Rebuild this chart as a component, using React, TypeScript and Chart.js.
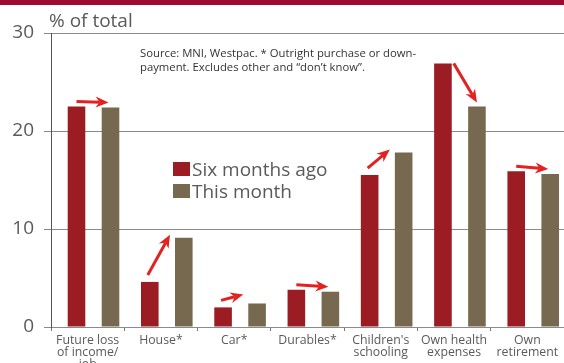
import React, { useEffect, useRef } from "react";
import { Chart, registerables } from "chart.js";

Chart.register(...registerables);

// ---- data ----
const categories: string[][] = [
  ["Future loss", "of income/", "job"],
  ["House*"],
  ["Car*"],
  ["Durables*"],
  ["Children's", "schooling"],
  ["Own health", "expenses"],
  ["Own", "retirement"],
];
const sixMonthsAgo = [22.5, 4.6, 2.0, 3.8, 15.5, 26.9, 15.9];
const thisMonth = [22.4, 9.1, 2.4, 3.6, 17.8, 22.5, 15.6];
const yTicks = [0, 10, 20, 30];
const seriesNames = ["Six months ago", "This month"];
const yTitle = "% of total";
const noteLines = [
  "Source: MNI, Westpac. * Outright purchase or down-",
  "payment. Excludes other and \u201cdon\u2019t know\u201d.",
];

// ---- styles ----
const FONT = "'Open Sans', sans-serif";
const RED = "#9b1c23";
const OLIVE = "#77694f";
const ARROW = "#e3211f";
const BAND = "#9e0b2e";
const TEXT = "#5a5a5a";
const GRID = "#8a8a8a";
const RED_POS = 0.348; // position of bar inside its category (fraction)
const OLIVE_POS = 0.812;
const BAR_W = 17.6;

function drawArrow(ctx: CanvasRenderingContext2D, x1: number, y1: number, x2: number, y2: number) {
  const ang = Math.atan2(y2 - y1, x2 - x1);
  const c = Math.cos(ang), s = Math.sin(ang);
  const headLen = 13, headW = 5.5, notch = 9;
  ctx.save();
  ctx.strokeStyle = ARROW;
  ctx.fillStyle = ARROW;
  ctx.lineWidth = 3;
  ctx.lineCap = "butt";
  ctx.beginPath();
  ctx.moveTo(x1, y1);
  ctx.lineTo(x2 - notch * c, y2 - notch * s);
  ctx.stroke();
  const bx = x2 - headLen * c, by = y2 - headLen * s;
  ctx.beginPath();
  ctx.moveTo(x2, y2);
  ctx.lineTo(bx - headW * s, by + headW * c);
  ctx.lineTo(x2 - notch * c, y2 - notch * s);
  ctx.lineTo(bx + headW * s, by - headW * c);
  ctx.closePath();
  ctx.fill();
  ctx.restore();
}

const decor = {
  id: "decor",
  beforeDraw(chart: any) {
    const ctx = chart.ctx as CanvasRenderingContext2D;
    ctx.save();
    ctx.fillStyle = "#ffffff";
    ctx.fillRect(0, 0, chart.width, chart.height);
    ctx.fillStyle = BAND;
    ctx.fillRect(0, 0, chart.width, 5);
    ctx.restore();
  },
  afterDatasetsDraw(chart: any) {
    const ctx = chart.ctx as CanvasRenderingContext2D;
    const m0 = chart.getDatasetMeta(0).data;
    const m1 = chart.getDatasetMeta(1).data;
    for (let i = 0; i < sixMonthsAgo.length; i++) {
      const r = m0[i], o = m1[i];
      const diff = thisMonth[i] - sixMonthsAgo[i];
      let x1, y1, x2, y2;
      if (diff > 0.3) {
        x1 = r.x - 2; y1 = r.y - 7;
        x2 = o.x - o.width / 2 - 5; y2 = Math.min(o.y - 3, y1 - 6);
      } else if (diff < -1) {
        x1 = r.x + r.width / 2 + 2; y1 = r.y;
        x2 = o.x; y2 = o.y - 4;
      } else {
        x1 = r.x; y1 = r.y - 5;
        x2 = o.x - 2; y2 = o.y - 5;
      }
      drawArrow(ctx, x1, y1, x2, y2);
    }
  },
  afterDraw(chart: any) {
    const ctx = chart.ctx as CanvasRenderingContext2D;
    const a = chart.chartArea;
    ctx.save();
    ctx.fillStyle = TEXT;
    ctx.textAlign = "left";
    ctx.textBaseline = "alphabetic";
    ctx.font = `19px ${FONT}`;
    ctx.fillText(yTitle, a.left - 2, 27);

    ctx.fillStyle = "#333333";
    ctx.font = `11.3px ${FONT}`;
    ctx.fillText(noteLines[0], a.left + 89, 57);
    ctx.fillText(noteLines[1], a.left + 89, 71);

    const colors = [RED, OLIVE];
    const lx = a.left + 122;
    const ly = [162, 184];
    ctx.font = `19px ${FONT}`;
    for (let k = 0; k < 2; k++) {
      ctx.fillStyle = colors[k];
      ctx.fillRect(lx, ly[k], 17, 14);
      ctx.fillStyle = TEXT;
      ctx.fillText(seriesNames[k], lx + 19, ly[k] + 14);
    }
    ctx.restore();
  },
};

export default function App() {
  const ref = useRef<HTMLCanvasElement>(null);
  useEffect(() => {
    const chart = new Chart(ref.current as HTMLCanvasElement, {
      type: "bar",
      data: {
        labels: categories as any,
        datasets: [
          {
            label: seriesNames[0],
            data: sixMonthsAgo.map((v, i) => ({ x: i + RED_POS, y: v })) as any,
            backgroundColor: RED,
            xAxisID: "xb",
            yAxisID: "y",
            grouped: false,
            maxBarThickness: BAR_W,
          },
          {
            label: seriesNames[1],
            data: thisMonth.map((v, i) => ({ x: i + OLIVE_POS, y: v })) as any,
            backgroundColor: OLIVE,
            xAxisID: "xb",
            yAxisID: "y",
            grouped: false,
            maxBarThickness: BAR_W,
          },
        ],
      },
      options: {
        animation: false,
        responsive: false,
        layout: { padding: { top: 33, right: 0, left: 0, bottom: 0 } },
        plugins: { legend: { display: false }, tooltip: { enabled: false } },
        scales: {
          x: {
            type: "category",
            position: "bottom",
            offset: true,
            grid: { offset: true, drawOnChartArea: false, tickLength: 4, color: "#777" },
            border: { display: false },
            ticks: {
              color: TEXT,
              font: { family: FONT, size: 12.3, lineHeight: 0.98 },
              padding: 3,
              maxRotation: 0,
              autoSkip: false,
            },
            afterFit: (s: any) => { s.height = 36; },
          },
          xb: {
            type: "linear",
            display: false,
            offset: false,
            min: 0,
            max: categories.length,
          },
          y: {
            type: "linear",
            position: "left",
            min: yTicks[0],
            max: yTicks[yTicks.length - 1],
            afterBuildTicks: (s: any) => { s.ticks = yTicks.map((v) => ({ value: v })); },
            ticks: { color: TEXT, font: { family: FONT, size: 19 }, padding: 10 },
            grid: { color: GRID, tickLength: 7, lineWidth: 1 },
            border: { color: "#555", width: 1 },
            afterFit: (s: any) => { s.width = 51; },
          },
        } as any,
      },
      plugins: [decor],
    });
    return () => chart.destroy();
  }, []);
  return (
    <div style={{ position: "fixed", left: 0, top: 0, width: 564, height: 363 }}>
      <canvas ref={ref} width={564} height={363} style={{ display: "block" }} />
    </div>
  );
}
